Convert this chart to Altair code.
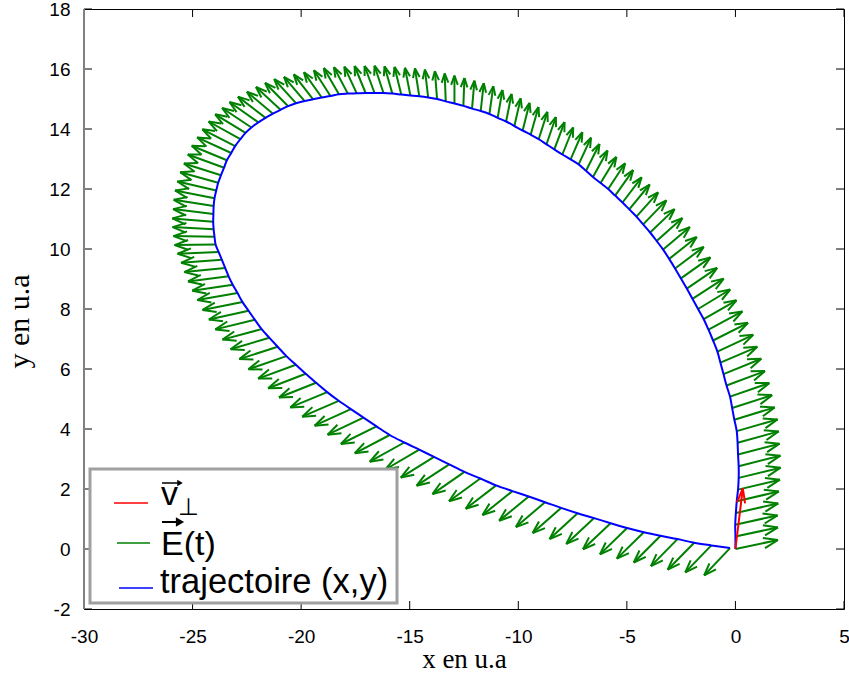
import altair as alt
import numpy as np
import pandas as pd

# Electron trajectory (x, y) in atomic units, sampled at the quiver points
x_traj = [0.00, 0.00, -0.01, 0.02, 0.06, 0.12, 0.15, 0.15, 0.12, 0.10, 0.06, -0.05, -0.15, -0.25, -0.41,
          -0.55, -0.69, -0.83, -1.03, -1.24, -1.46, -1.72, -1.98, -2.24, -2.51, -2.78, -3.05, -3.33, -3.63,
          -3.93, -4.25, -4.56, -4.89, -5.20, -5.54, -5.86, -6.21, -6.56, -6.88, -7.22, -7.59, -7.97,
          -8.34, -8.70, -9.06, -9.43, -9.80, -10.18, -10.56, -10.95, -11.33, -11.73, -12.13, -12.53, -12.94,
          -13.34, -13.74, -14.15, -14.56, -14.97, -15.39, -15.80, -16.21, -16.62, -17.03, -17.44, -17.85,
          -18.26, -18.65, -19.05, -19.45, -19.84, -20.24, -20.60, -20.95, -21.30, -21.64, -21.97, -22.29,
          -22.56, -22.80, -23.04, -23.22, -23.42, -23.55, -23.69, -23.82, -23.91, -23.99, -24.03, -24.04, -24.05,
          -24.03, -23.99, -23.94, -23.80, -23.65, -23.50, -23.34, -23.15, -22.93, -22.70, -22.42, -22.13,
          -21.82, -21.46, -21.08, -20.68, -20.24, -19.79, -19.31, -18.80, -18.27, -17.71, -17.13, -16.53,
          -15.92, -15.25, -14.56, -13.88, -13.18, -12.48, -11.75, -11.02, -10.27, -9.52, -8.77, -8.03,
          -7.27, -6.51, -5.75, -4.99, -4.22, -3.45, -2.67, -1.90, -1.11, -0.25]
y_traj = [0.00, 0.42, 0.81, 1.20, 1.59, 1.98, 2.37, 2.76, 3.15, 3.54, 3.93, 4.31, 4.70, 5.08, 5.45, 5.83,
          6.21, 6.58, 6.95, 7.31, 7.66, 8.00, 8.34, 8.68, 9.02, 9.35, 9.67, 9.98, 10.27, 10.55, 10.82, 11.08,
          11.32, 11.55, 11.78, 12.00, 12.20, 12.40, 12.61, 12.82, 12.99, 13.15,
          13.32, 13.49, 13.66, 13.81, 13.95, 14.10, 14.25, 14.37, 14.50, 14.60, 14.68, 14.77, 14.85, 14.92,
          15.00, 15.05, 15.09, 15.12, 15.15, 15.18, 15.20, 15.20, 15.20, 15.19, 15.18, 15.16, 15.10, 15.05,
          14.99, 14.93, 14.86, 14.76, 14.64, 14.51, 14.37, 14.22, 14.05, 13.87, 13.66, 13.43, 13.20, 12.96,
          12.71, 12.46, 12.21, 11.95, 11.69, 11.43, 11.17, 10.91,
          10.66, 10.41, 10.15, 9.90, 9.64, 9.37, 9.09, 8.81, 8.53, 8.23, 7.94, 7.64, 7.33, 7.04, 6.74, 6.43,
          6.14, 5.84, 5.54, 5.23, 4.94, 4.66, 4.38, 4.09, 3.80, 3.55, 3.31, 3.07, 2.82, 2.57, 2.35, 2.12,
          1.93, 1.75, 1.56, 1.37, 1.19, 1.03, 0.86, 0.70, 0.56, 0.44, 0.33, 0.21, 0.12, 0.03]

# Electric field components E(t) at the same instants
ex = [1.96, 1.96, 1.95, 1.95, 1.94, 1.93, 1.93, 1.92, 1.91, 1.89, 1.88, 1.86, 1.84, 1.81, 1.77, 1.74,
      1.70, 1.65, 1.61, 1.56, 1.51, 1.48, 1.44, 1.40, 1.36, 1.32, 1.27, 1.23, 1.19, 1.13, 1.07, 1.00,
      0.94, 0.88, 0.83, 0.78, 0.73, 0.67, 0.62, 0.57, 0.54, 0.50,
      0.47, 0.43, 0.40, 0.36, 0.32, 0.29, 0.25, 0.22, 0.18, 0.14, 0.11, 0.05, 0.00, -0.05, -0.10, -0.15,
      -0.20, -0.25, -0.31, -0.36, -0.41, -0.46, -0.51, -0.57, -0.64, -0.70, -0.76, -0.82, -0.89, -0.95,
      -1.00, -1.06, -1.13, -1.20, -1.27, -1.33, -1.35, -1.40, -1.46, -1.51, -1.57, -1.62, -1.67, -1.71,
      -1.75, -1.79, -1.82, -1.84, -1.86, -1.88,
      -1.89, -1.89, -1.89, -1.89, -1.88, -1.88, -1.87, -1.86, -1.85, -1.84, -1.83, -1.82, -1.80, -1.79,
      -1.77, -1.75, -1.74, -1.73, -1.71, -1.70, -1.68, -1.67, -1.65, -1.64, -1.61, -1.59, -1.56, -1.53,
      -1.50, -1.47, -1.44, -1.40, -1.38, -1.36, -1.34, -1.31, -1.29, -1.28, -1.27, -1.25, -1.24, -1.23,
      -1.22, -1.22, -1.20, -1.19]
ey = [0.30, 0.30, 0.31, 0.32, 0.33, 0.33, 0.34, 0.35, 0.36, 0.38, 0.39, 0.41, 0.43, 0.45, 0.48, 0.51,
      0.53, 0.56, 0.59, 0.61, 0.63, 0.65, 0.67, 0.69, 0.70, 0.72, 0.73, 0.75, 0.76, 0.78, 0.80, 0.81,
      0.83, 0.84, 0.85, 0.86, 0.87, 0.88, 0.89, 0.89, 0.90, 0.90,
      0.91, 0.91, 0.91, 0.92, 0.92, 0.92, 0.92, 0.93, 0.93, 0.93, 0.93, 0.93, 0.93, 0.93, 0.93, 0.93,
      0.93, 0.92, 0.92, 0.91, 0.91, 0.90, 0.90, 0.89, 0.88, 0.87, 0.86, 0.84, 0.83, 0.81, 0.80, 0.78,
      0.76, 0.73, 0.71, 0.68, 0.65, 0.62, 0.59, 0.56, 0.52, 0.48, 0.44, 0.39, 0.35, 0.30, 0.26, 0.21,
      0.16, 0.11,
      0.07, 0.02, -0.02, -0.06, -0.10, -0.14, -0.17, -0.20, -0.23, -0.26, -0.29, -0.32, -0.35, -0.38,
      -0.41, -0.44, -0.46, -0.48, -0.49, -0.51, -0.53, -0.55, -0.57, -0.59, -0.61, -0.64, -0.66, -0.69,
      -0.71, -0.74, -0.76, -0.78, -0.80, -0.81, -0.83, -0.84, -0.86, -0.86, -0.87, -0.88, -0.88, -0.89,
      -0.90, -0.90, -0.90, -0.91]

# Initial perpendicular velocity, drawn from the origin
v_origin = [0.0, 0.0]
v_perp = [0.34, 2.02]

x_ticks = [-30, -25, -20, -15, -10, -5, 0, 5]
y_ticks = [-2, 0, 2, 4, 6, 8, 10, 12, 14, 16, 18]

W, H = 760, 600
XDOM, YDOM = [-30, 5], [-2, 18]
KX = W / (XDOM[1] - XDOM[0])   # pixels per unit along x
KY = H / (YDOM[1] - YDOM[0])   # pixels per unit along y


def quiver_segments(x0, y0, u, v, alpha=0.33, beta=0.36):
    """Shaft and two head barbs for each arrow, head shaped in screen space."""
    x0, y0, u, v = map(np.asarray, (x0, y0, u, v))
    pu, pv = u * KX, v * KY
    tx, ty = x0 + u, y0 + v
    bx, by = -alpha * pu, -alpha * pv
    nx, ny = -alpha * beta * pv, alpha * beta * pu
    b1x, b1y = tx + (bx + nx) / KX, ty + (by + ny) / KY
    b2x, b2y = tx + (bx - nx) / KX, ty + (by - ny) / KY
    shaft = pd.DataFrame({"x": x0, "y": y0, "x2": tx, "y2": ty})
    barb1 = pd.DataFrame({"x": tx, "y": ty, "x2": b1x, "y2": b1y})
    barb2 = pd.DataFrame({"x": tx, "y": ty, "x2": b2x, "y2": b2y})
    return pd.concat([shaft, barb1, barb2], ignore_index=True)


field_df = quiver_segments(x_traj, y_traj, ex, ey)
vel_df = quiver_segments([v_origin[0]], [v_origin[1]], [v_perp[0]], [v_perp[1]], alpha=0.24, beta=0.28)
traj_df = pd.DataFrame({"i": range(len(x_traj)), "x": x_traj, "y": y_traj})

xscale = alt.Scale(domain=XDOM, nice=False, zero=False)
yscale = alt.Scale(domain=YDOM, nice=False, zero=False)

# plain hyphen for negative tick labels
plain_label = "'' + datum.value"

x_axis = alt.Axis(values=x_ticks, title="x en u.a", titleFont="Liberation Serif", titleFontSize=27,
                  titleFontWeight="normal", titleColor="black", titlePadding=0,
                  labelFont="Liberation Sans", labelFontSize=19, labelColor="black", labelPadding=18,
                  labelExpr=plain_label, labelFlush=False, labelOverlap=False,
                  ticks=False, domain=False, grid=False)
y_axis = alt.Axis(values=y_ticks, title="y en u.a", titleFont="Liberation Serif", titleFontSize=30,
                  titleFontWeight="normal", titleColor="black", titlePadding=14, titleY=312,
                  labelFont="Liberation Sans", labelFontSize=19, labelColor="black", labelPadding=14,
                  labelExpr=plain_label, labelFlush=False, labelOverlap=False,
                  ticks=False, domain=False, grid=False)

field = alt.Chart(field_df).mark_rule(color="#008000", strokeWidth=2).encode(
    x=alt.X("x:Q", scale=xscale, axis=x_axis),
    y=alt.Y("y:Q", scale=yscale, axis=y_axis),
    x2="x2:Q", y2="y2:Q")

traj = alt.Chart(traj_df).mark_line(color="#0000ff", strokeWidth=2, interpolate="catmull-rom").encode(
    x="x:Q", y="y:Q", order="i:Q")

vel = alt.Chart(vel_df).mark_rule(color="#ff0000", strokeWidth=2).encode(
    x="x:Q", y="y:Q", x2="x2:Q", y2="y2:Q")

# inward ticks on all four sides
xt = pd.DataFrame({"t": x_ticks})
yt = pd.DataFrame({"t": y_ticks})
tick_bottom = alt.Chart(xt).mark_rule(color="black").encode(x="t:Q", y=alt.value(H), y2=alt.value(H - 8))
tick_top = alt.Chart(xt).mark_rule(color="black").encode(x="t:Q", y=alt.value(0), y2=alt.value(8))
tick_left = alt.Chart(yt).mark_rule(color="black").encode(y="t:Q", x=alt.value(0), x2=alt.value(8))
tick_right = alt.Chart(yt).mark_rule(color="black").encode(y="t:Q", x=alt.value(W), x2=alt.value(W - 8))
left_edge = alt.Chart(pd.DataFrame({"z": [0]})).mark_rule(color="#808080", strokeWidth=2).encode(
    x=alt.value(0), y=alt.value(0), y2=alt.value(H))

# legend box
one = pd.DataFrame({"z": [0]})
leg_box = alt.Chart(one).mark_rect(fill="white", stroke="#a0a0a0", strokeWidth=3).encode(
    x=alt.value(6), x2=alt.value(313), y=alt.value(460), y2=alt.value(594))
leg_red = alt.Chart(one).mark_rule(color="#ff0000", strokeWidth=1.5).encode(
    x=alt.value(30), x2=alt.value(64), y=alt.value(494))
leg_green = alt.Chart(one).mark_rule(color="#008000", strokeWidth=1.5).encode(
    x=alt.value(33), x2=alt.value(66), y=alt.value(534))
leg_blue = alt.Chart(one).mark_rule(color="#0000ff", strokeWidth=1.5).encode(
    x=alt.value(35), x2=alt.value(69), y=alt.value(579))
txt_v = alt.Chart(one).mark_text(text="v", font="Liberation Sans", fontSize=34, align="left",
                                 baseline="alphabetic", color="black").encode(x=alt.value(77), y=alt.value(496))
txt_perp = alt.Chart(one).mark_text(text="\u22a5", font="DejaVu Sans", fontSize=24, align="left",
                                    baseline="alphabetic", color="black").encode(x=alt.value(94), y=alt.value(506))
vec_v = alt.Chart(one).mark_rule(color="black", strokeWidth=1.5).encode(
    x=alt.value(78), x2=alt.value(95), y=alt.value(474))
vec_v_head = alt.Chart(one).mark_point(shape="triangle-right", filled=True, color="black", size=40,
                                       opacity=1).encode(x=alt.value(96), y=alt.value(474))
txt_e = alt.Chart(one).mark_text(text="E(t)", font="Liberation Sans", fontSize=34, align="left",
                                 baseline="alphabetic", color="black").encode(x=alt.value(77), y=alt.value(546))
vec_e = alt.Chart(one).mark_rule(color="black", strokeWidth=2).encode(
    x=alt.value(78), x2=alt.value(94), y=alt.value(513))
vec_e_head = alt.Chart(one).mark_point(shape="triangle-right", filled=True, color="black", size=90,
                                       opacity=1).encode(x=alt.value(96), y=alt.value(513))
txt_traj = alt.Chart(one).mark_text(text="trajectoire (x,y)", font="Liberation Sans", fontSize=34.5,
                                    align="left", baseline="alphabetic", color="black").encode(
    x=alt.value(76), y=alt.value(584))

chart = alt.layer(
    field, traj, vel, tick_bottom, tick_top, tick_left, tick_right, left_edge,
    leg_box, leg_red, leg_green, leg_blue, txt_v, txt_perp, vec_v, vec_v_head,
    txt_e, vec_e, vec_e_head, txt_traj
).properties(
    width=W, height=H,
    autosize=alt.AutoSizeParams(type="none"),
    padding={"left": 84, "top": 9, "right": 5, "bottom": 66},
    background="white",
).configure_view(stroke="black", strokeWidth=1)

chart.save("out.html", embed_options={"renderer": "svg", "actions": False})
